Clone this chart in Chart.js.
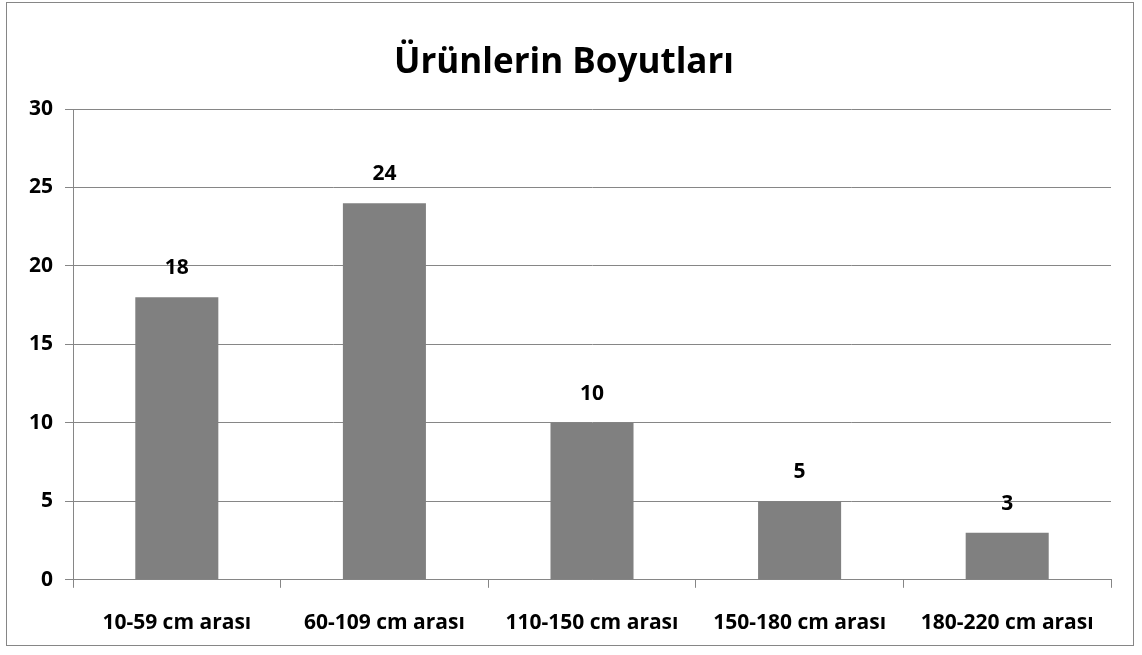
<!DOCTYPE html>
<html>
<head>
<meta charset="utf-8">
<script src="https://cdn.jsdelivr.net/npm/chart.js@4"></script>
<style>
  body { margin: 0; background: #fff; overflow: hidden; }
  #frame { position: absolute; left: 6px; top: 2px; width: 1126px; height: 642px; border: 1px solid #868686; }
  #chart1 { position: absolute; left: 0; top: 0; }
</style>
</head>
<body>
<div id="frame"><canvas id="chart1" width="1126" height="656"></canvas></div>
<script>
// chart data
const categories = ['10-59 cm arası', '60-109 cm arası', '110-150 cm arası', '150-180 cm arası', '180-220 cm arası'];
const counts = [18, 24, 10, 5, 3];
const yTicks = [0, 5, 10, 15, 20, 25, 30];

const fontFamily = '"Open Sans", sans-serif';

// draws the number over each bar
const barLabels = {
  id: 'barLabels',
  afterDatasetsDraw(chart) {
    const ctx = chart.ctx;
    ctx.save();
    ctx.font = 'bold 21px ' + fontFamily;
    ctx.fillStyle = '#000';
    ctx.textAlign = 'center';
    ctx.textBaseline = 'middle';
    chart.getDatasetMeta(0).data.forEach((bar, i) => {
      ctx.fillText(counts[i], bar.x, bar.y - 29);
    });
    ctx.restore();
  }
};

new Chart(document.getElementById('chart1'), {
  type: 'bar',
  data: {
    labels: categories,
    datasets: [{
      data: counts,
      backgroundColor: '#808080',
      barPercentage: 0.4,
      categoryPercentage: 1
    }]
  },
  options: {
    responsive: false,
    animation: false,
    layout: { padding: { left: 10, right: 22, top: 8, bottom: 0 } },
    plugins: {
      legend: { display: false },
      tooltip: { enabled: false },
      title: {
        display: true,
        text: 'Ürünlerin Boyutları',
        color: '#000',
        font: { family: fontFamily, size: 35, weight: 'bold' },
        padding: { top: 31, bottom: 25 }
      }
    },
    scales: {
      x: {
        grid: { drawOnChartArea: false, color: '#868686', tickLength: 8, offset: true },
        border: { color: '#868686' },
        ticks: { color: '#000', font: { family: fontFamily, size: 21, weight: 'bold' }, padding: 23, maxRotation: 0 }
      },
      y: {
        min: 0,
        max: 30,
        afterBuildTicks: (axis) => { axis.ticks = yTicks.map(v => ({ value: v })); },
        grid: { color: '#868686', tickLength: 8 },
        border: { color: '#868686' },
        ticks: { color: '#000', font: { family: fontFamily, size: 21, weight: 'bold' }, padding: 12 }
      }
    }
  },
  plugins: [barLabels]
});
</script>
</body>
</html>
